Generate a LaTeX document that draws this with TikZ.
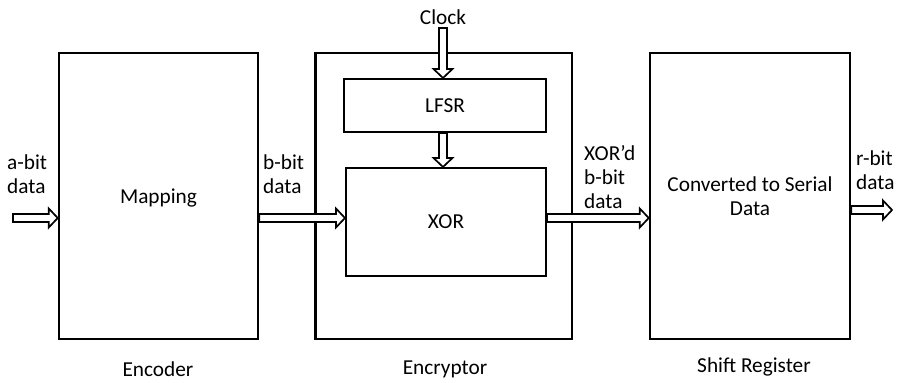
\documentclass[tikz,border=0pt]{standalone}
\usepackage{fontspec}
\setmainfont{Carlito}
\usetikzlibrary{calc}

% hollow block arrows, horizontal (left to right) and vertical (top to bottom)
\newcommand{\harrow}[2]{%
  \draw[blockarrow] let \p1=(#1), \p2=(#2) in
    (\x1,\y1+4pt) -- (\x2-9pt,\y1+4pt) -- (\x2-9pt,\y1+9.5pt) -- (\x2,\y1)
    -- (\x2-9pt,\y1-9.5pt) -- (\x2-9pt,\y1-4pt) -- (\x1,\y1-4pt) -- cycle;}
\newcommand{\varrow}[2]{%
  \draw[blockarrow] let \p1=(#1), \p2=(#2) in
    (\x1-4pt,\y1) -- (\x1-4pt,\y2+9pt) -- (\x1-9.5pt,\y2+9pt) -- (\x1,\y2)
    -- (\x1+9.5pt,\y2+9pt) -- (\x1+4pt,\y2+9pt) -- (\x1+4pt,\y1) -- cycle;}

\tikzset{
  outerbox/.style={draw, line width=2.5pt, inner sep=0pt},
  innerbox/.style={draw, line width=2.1pt, inner sep=0pt},
  blockarrow/.style={draw, fill=white, line width=1.7pt, line join=miter},
  lbl/.style={inner sep=0pt, align=left, anchor=west},
  every node/.style={font=\fontsize{21.3}{24}\selectfont}
}

\begin{document}
\begin{tikzpicture}[x=1pt,y=-1pt]
\useasboundingbox (0,0) rectangle (898,383);

% main blocks
\node[outerbox, minimum width=199pt, minimum height=286pt, text depth=0pt] (enc) at (158.5,196) {Mapping};
\node[outerbox, minimum width=256.5pt, minimum height=286pt] (encr) at (443.75,196) {};
\node[innerbox, minimum width=202pt, minimum height=53pt] (lfsr) at (445,105.5) {LFSR};
\node[innerbox, minimum width=200pt, minimum height=108pt] (xor) at (446,222) {XOR};
\node[outerbox, minimum width=200pt, minimum height=286pt, align=center] (sr) at (750,196)
  {Converted to Serial\\Data};

% block captions
\node (cenc) at (158,369) {Encoder};
\node (cencr) at (445,369) {Encryptor};
\node (csr) at (754,367) {Shift Register};

% clock input
\node (clock) at (443,17) {Clock};

% signal labels
\node[lbl] (la) at (7,174) {a-bit\\data};
\node[lbl] (lb) at (263,174) {b-bit\\data};
\node[lbl] (lx) at (584,177) {XOR’d\\b-bit\\data};
\node[lbl] (lr) at (856,170) {r-bit\\data};

% arrow rows and free ends
\coordinate (row) at (0,218);
\coordinate (rrow) at (0,210);
\coordinate (ain) at (13,218);
\coordinate (rout) at (892,210);

% connectors
\harrow{ain}{enc.west |- row}
\harrow{enc.east |- row}{xor.west |- row}
\harrow{xor.east |- row}{sr.west |- row}
\harrow{sr.east |- rrow}{rout}
\varrow{clock.south}{clock |- lfsr.north}
\varrow{clock |- lfsr.south}{clock |- xor.north}
\end{tikzpicture}
\end{document}
